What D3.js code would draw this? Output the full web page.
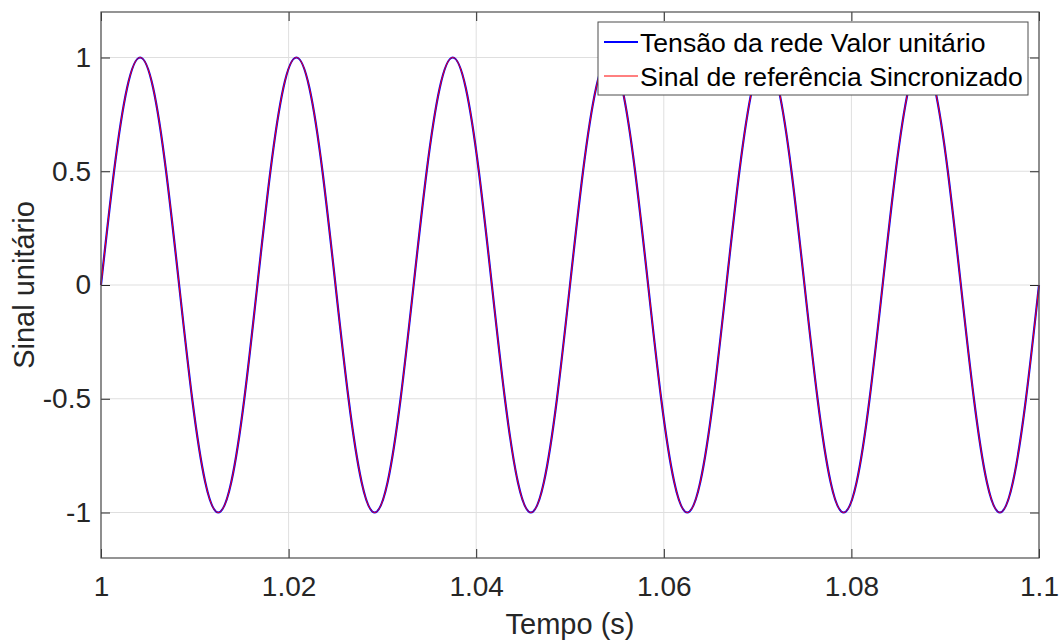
<!DOCTYPE html>
<html>
<head>
<meta charset="utf-8">
<script src="https://cdn.jsdelivr.net/npm/d3@7/dist/d3.min.js"></script>
<style>
  html, body { margin: 0; padding: 0; background: #fff; }
  svg { display: block; font-family: "Liberation Sans", Arial, Helvetica, sans-serif; }
</style>
</head>
<body>
<svg id="chart" width="1062" height="640"></svg>
<script>
// Sample times (s), one sample every 30 degrees of the 60 Hz waveform
const time = [
  1.00000, 1.00139, 1.00278, 1.00417, 1.00556, 1.00694, 1.00833, 1.00972, 1.01111, 1.01250, 1.01389, 1.01528,
  1.01667, 1.01806, 1.01944, 1.02083, 1.02222, 1.02361, 1.02500, 1.02639, 1.02778, 1.02917, 1.03056, 1.03194,
  1.03333, 1.03472, 1.03611, 1.03750, 1.03889, 1.04028, 1.04167, 1.04306, 1.04444, 1.04583, 1.04722, 1.04861,
  1.05000, 1.05139, 1.05278, 1.05417, 1.05556, 1.05694, 1.05833, 1.05972, 1.06111, 1.06250, 1.06389, 1.06528,
  1.06667, 1.06806, 1.06944, 1.07083, 1.07222, 1.07361, 1.07500, 1.07639, 1.07778, 1.07917, 1.08056, 1.08194,
  1.08333, 1.08472, 1.08611, 1.08750, 1.08889, 1.09028, 1.09167, 1.09306, 1.09444, 1.09583, 1.09722, 1.09861,
  1.10000
];

// Grid voltage, per unit
const gridVoltage = [
  0, 0.5, 0.866, 1, 0.866, 0.5, 0, -0.5, -0.866, -1, -0.866, -0.5,
  0, 0.5, 0.866, 1, 0.866, 0.5, 0, -0.5, -0.866, -1, -0.866, -0.5,
  0, 0.5, 0.866, 1, 0.866, 0.5, 0, -0.5, -0.866, -1, -0.866, -0.5,
  0, 0.5, 0.866, 1, 0.866, 0.5, 0, -0.5, -0.866, -1, -0.866, -0.5,
  0, 0.5, 0.866, 1, 0.866, 0.5, 0, -0.5, -0.866, -1, -0.866, -0.5,
  0, 0.5, 0.866, 1, 0.866, 0.5, 0, -0.5, -0.866, -1, -0.866, -0.5,
  0
];

// Synchronized reference signal
const referenceSignal = [
  0, 0.5, 0.866, 1, 0.866, 0.5, 0, -0.5, -0.866, -1, -0.866, -0.5,
  0, 0.5, 0.866, 1, 0.866, 0.5, 0, -0.5, -0.866, -1, -0.866, -0.5,
  0, 0.5, 0.866, 1, 0.866, 0.5, 0, -0.5, -0.866, -1, -0.866, -0.5,
  0, 0.5, 0.866, 1, 0.866, 0.5, 0, -0.5, -0.866, -1, -0.866, -0.5,
  0, 0.5, 0.866, 1, 0.866, 0.5, 0, -0.5, -0.866, -1, -0.866, -0.5,
  0, 0.5, 0.866, 1, 0.866, 0.5, 0, -0.5, -0.866, -1, -0.866, -0.5,
  0
];

const xTicks = [1, 1.02, 1.04, 1.06, 1.08, 1.1];
const xTickLabels = ["1", "1.02", "1.04", "1.06", "1.08", "1.1"];
const yTicks = [-1, -0.5, 0, 0.5, 1];
const yTickLabels = ["-1", "-0.5", "0", "0.5", "1"];
const seriesNames = ["Tensão da rede Valor unitário", "Sinal de referência Sincronizado"];

(function draw() {
  const svg = d3.select("#chart");
  const plotL = 101, plotR = 1039, plotT = 12, plotB = 558;
  const axisColor = "#262626";
  const tickFont = 28;

  const x = d3.scaleLinear().domain([1, 1.1]).range([plotL, plotR]);
  const y = d3.scaleLinear().domain([-1.2, 1.2]).range([plotB, plotT]);

  // grid
  const grid = svg.append("g");
  grid.selectAll("line.gx").data(xTicks).join("line")
    .attr("x1", d => x(d)).attr("x2", d => x(d))
    .attr("y1", plotT).attr("y2", plotB)
    .attr("stroke", "#dfdfdf").attr("stroke-width", 1);
  grid.selectAll("line.gy").data(yTicks).join("line")
    .attr("y1", d => y(d)).attr("y2", d => y(d))
    .attr("x1", plotL).attr("x2", plotR)
    .attr("stroke", "#dfdfdf").attr("stroke-width", 1);

  // curves
  const line = (vals) => d3.line()
    .x((d, i) => x(time[i]))
    .y(d => y(d))
    .curve(d3.curveNatural)(vals);

  svg.append("path").attr("d", line(gridVoltage))
    .attr("fill", "none").attr("stroke", "#0000ff").attr("stroke-width", 2.2);
  svg.append("path").attr("d", line(referenceSignal))
    .attr("fill", "none").attr("stroke", "#ff0000").attr("stroke-width", 1);

  // axes: inward ticks on all four sides
  const tickLen = 9;
  const axBottom = svg.append("g").attr("transform", `translate(0,${plotB})`)
    .call(d3.axisBottom(x).tickValues(xTicks).tickSizeInner(-tickLen).tickSizeOuter(0)
      .tickPadding(18).tickFormat((d, i) => xTickLabels[i]));
  const axTop = svg.append("g").attr("transform", `translate(0,${plotT})`)
    .call(d3.axisTop(x).tickValues(xTicks).tickSizeInner(-tickLen).tickSizeOuter(0).tickFormat(""));
  const axLeft = svg.append("g").attr("transform", `translate(${plotL},0)`)
    .call(d3.axisLeft(y).tickValues(yTicks).tickSizeInner(-tickLen).tickSizeOuter(0)
      .tickPadding(10).tickFormat((d, i) => yTickLabels[i]));
  const axRight = svg.append("g").attr("transform", `translate(${plotR},0)`)
    .call(d3.axisRight(y).tickValues(yTicks).tickSizeInner(-tickLen).tickSizeOuter(0).tickFormat(""));

  [axBottom, axTop, axLeft, axRight].forEach(g => {
    g.select(".domain").remove();
    g.selectAll("line").attr("stroke", axisColor).attr("stroke-width", 1);
    g.selectAll("text").attr("fill", axisColor).attr("font-size", tickFont)
      .attr("font-family", "'Liberation Sans', Arial, sans-serif");
  });
  axBottom.selectAll("text").attr("dy", "0.71em");

  // frame
  svg.append("rect")
    .attr("x", plotL).attr("y", plotT)
    .attr("width", plotR - plotL).attr("height", plotB - plotT)
    .attr("fill", "none").attr("stroke", "#4d4d4d").attr("stroke-width", 1.2);

  // axis labels
  svg.append("text")
    .attr("x", (plotL + plotR) / 2).attr("y", 634)
    .attr("text-anchor", "middle").attr("font-size", 29).attr("fill", axisColor)
    .text("Tempo (s)");
  svg.append("text")
    .attr("transform", `translate(34,${(plotT + plotB) / 2}) rotate(-90)`)
    .attr("text-anchor", "middle").attr("font-size", 29).attr("fill", axisColor)
    .text("Sinal unitário");

  // legend
  const lg = svg.append("g");
  lg.append("rect")
    .attr("x", 598).attr("y", 22).attr("width", 430).attr("height", 73)
    .attr("fill", "#fff").attr("stroke", "#4d4d4d").attr("stroke-width", 1);
  const legendColors = ["#0000ff", "#ff0000"];
  const legendWidths = [2, 1];
  const legendY = [42, 76];
  seriesNames.forEach((name, i) => {
    lg.append("line")
      .attr("x1", 604).attr("x2", 638)
      .attr("y1", legendY[i]).attr("y2", legendY[i])
      .attr("stroke", legendColors[i]).attr("stroke-width", legendWidths[i]);
    lg.append("text")
      .attr("x", 640).attr("y", legendY[i]).attr("dy", "0.36em")
      .attr("font-size", 26.6).attr("fill", "#000")
      .text(name);
  });
})();
</script>
</body>
</html>
